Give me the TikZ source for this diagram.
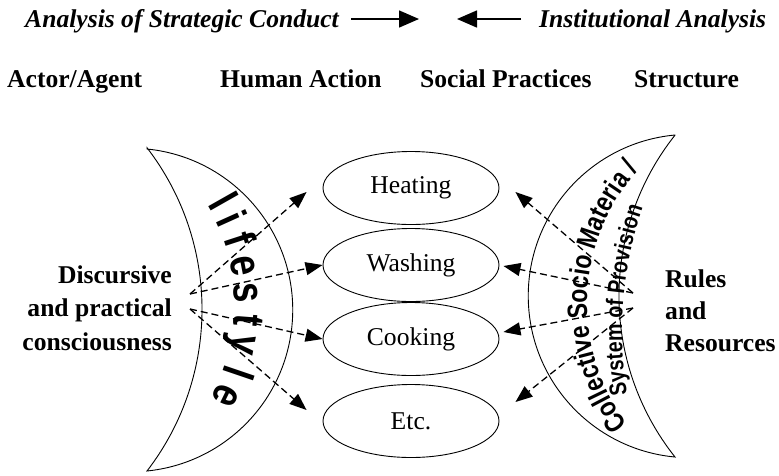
\documentclass[tikz,border=0pt]{standalone}
\usepackage{fontspec}
\setmainfont{Liberation Serif}
\setsansfont{Liberation Sans}
\newfontfamily\provsans[FakeStretch=0.82]{Liberation Sans}
\usepackage{tikz}
\usetikzlibrary{arrows.meta,calc,shapes.geometric,decorations.text}
\newcommand{\bigtxt}{\fontsize{25.6pt}{33.5pt}\selectfont}
\newcommand{\arcfont}{\fontsize{34pt}{34pt}\selectfont\sffamily\bfseries}
\newcommand{\provfont}{\fontsize{28pt}{28pt}\selectfont\provsans\bfseries}
\newcommand{\provfontb}{\fontsize{24pt}{24pt}\selectfont\provsans\bfseries}
\tikzset{
  hdr/.style ={font=\bigtxt\bfseries,inner sep=0pt,anchor=base west},
  ihdr/.style={font=\bigtxt\bfseries\itshape,inner sep=0pt,anchor=base west},
  prac/.style={ellipse,draw,line width=0.9pt,minimum width=176pt,minimum height=73pt,inner sep=0pt,font=\bigtxt},
  side/.style={inner sep=0pt},
  moon/.style={draw,line width=0.9pt},
  ar/.style  ={-{Triangle[length=20pt,width=17pt]},line width=1.5pt},
  dar/.style ={-{Triangle[length=17pt,width=13pt]},line width=1.3pt,dash pattern=on 7pt off 4pt},
}

\begin{document}
\begin{tikzpicture}[x=1pt,y=1pt]
\useasboundingbox (0,0) rectangle (779,-475);

% headings
\node[ihdr] (sc) at (25,-27) {Analysis of Strategic Conduct};
\node[ihdr] (ia) at (539,-27) {Institutional Analysis};
\coordinate (mL) at (419,-19);
\coordinate (mR) at (457,-19);
\draw[ar,shorten <=12pt] (sc.east |- mL) -- (mL);
\draw[ar,shorten <=18pt] (ia.west |- mR) -- (mR);

\node[hdr] (aa) at (7,-87)   {Actor/Agent};
\node[hdr] (ha) at (220,-87) {Human Action};
\node[hdr] (sp) at (420,-87) {Social Practices};
\node[hdr] (st) at (634,-87) {Structure};

% the two moons
\draw[moon] (147,-149) arc[start angle=84.3,end angle=-84.3,radius=161.8]
  arc[start angle=-37.6,end angle=37.6,radius=264.9] -- cycle;
\draw[moon] (675,-135) arc[start angle=95.3,end angle=264.7,radius=161.7]
  arc[start angle=218.4,end angle=141.6,radius=259.1] -- cycle;

\foreach \a/\ch [count=\k] in {29.5/l,24.3/i,18.1/f,10.9/e,3.4/s,-4.3/t,-10.9/y,-18.8/l,-26.1/e}
  \node[font=\arcfont,rotate=\a-90,anchor=mid,inner sep=0pt] (lf\k) at ({40+197*cos(\a)},{-305+197*sin(\a)}) {\scalebox{1.05}[1.3]{\ch}};

\path[decorate,decoration={text along path,text={|\provfont|Collective Socio Materia /},text align=center}]
  (785,-304) ++(240:198) arc[start angle=240,end angle=115,radius=198];
\path[decorate,decoration={text along path,text={|\provfontb|System of Provision},text align=center}]
  (1005,-332) ++(205:383) arc[start angle=205,end angle=145.4,radius=383];

% practices
\node[prac] (heat) at (411,-188) {Heating};
\node[prac] (wash) at (411,-265) {Washing};
\node[prac] (cook) at (411,-339) {Cooking};
\node[prac] (etc)  at (411,-421) {Etc.};

\node[side,font={\fontsize{25.6pt}{33.5pt}\selectfont\bfseries},align=right,anchor=east] (dpc) at (172,-308)
  {Discursive\\and practical\\consciousness};
\node[side,font={\fontsize{25.6pt}{32pt}\selectfont\bfseries},align=left,anchor=west] (rr) at (665,-311)
  {Rules\\and\\Resources};

\coordinate (lu) at (190,-294);
\coordinate (ld) at (190,-309);
\coordinate (ru) at (633,-293);
\coordinate (rd) at (633,-308);
\draw[dar] (lu) -- ($(heat.west)+(-16,-4)$);
\draw[dar] (lu) -- (wash.west);
\draw[dar] (ld) -- (cook.west);
\draw[dar] (ld) -- ($(etc.west)+(-16,11)$);
\draw[dar] (ru) -- ($(heat.east)+(16,-4)$);
\draw[dar] (ru) -- ($(wash.east)+(4,-1)$);
\draw[dar] (rd) -- ($(cook.east)+(4,7)$);
\draw[dar] (rd) -- ($(etc.east)+(16,19)$);
\end{tikzpicture}
\end{document}
